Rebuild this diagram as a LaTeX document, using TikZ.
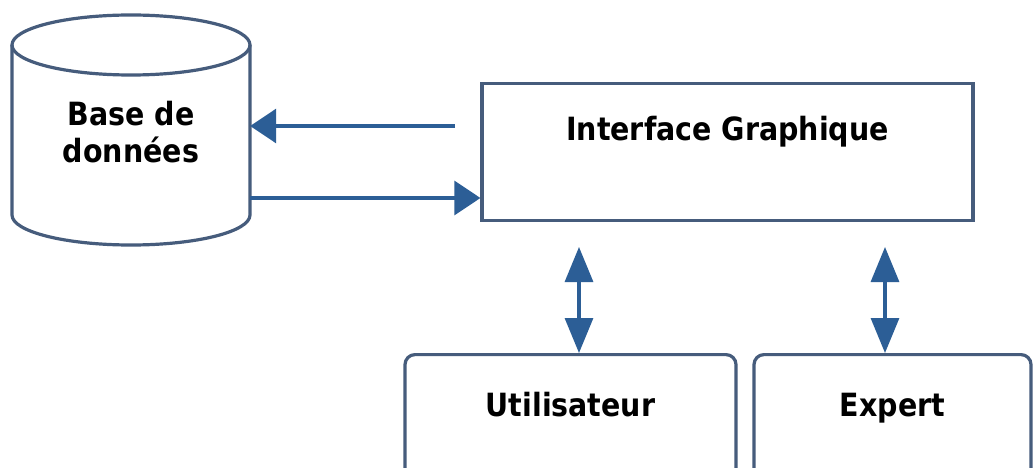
\documentclass[tikz,border=0pt]{standalone}
\usepackage{fontspec}
\setmainfont{DejaVu Sans}[FakeStretch=0.89]
\usetikzlibrary{arrows.meta}
\definecolor{frame}{RGB}{70,92,124}
\definecolor{flow}{RGB}{44,94,150}
\begin{document}
\begin{tikzpicture}[x=1pt,y=-1pt,
  label/.style={font=\fontsize{32}{37}\selectfont\bfseries, text=black},
  box/.style={label, draw=frame, line width=3.2pt, fill=white, inner xsep=0pt, inner ysep=0pt, anchor=north},
  link/.style={draw=flow, line width=3.2pt},
  hhead/.style={-{Triangle[length=26pt,width=34pt]}},
  vhead/.style={{Triangle[length=35pt,width=28pt]}-{Triangle[length=35pt,width=28pt]}},
]
\clip (0,0) rectangle (1034,468);
\fill[white] (0,0) rectangle (1034,468);

% database cylinder
\draw[frame, line width=3.2pt, fill=white]
  (12,45) -- (12,215) arc[start angle=180, end angle=360, x radius=119pt, y radius=30pt] -- (250,45);
\draw[frame, line width=3.2pt] (131,45) ellipse[x radius=119pt, y radius=30pt];
\node[label, align=center, minimum width=238pt, inner sep=0pt] (db) at (131,132) {Base de\\données};

% boxes
\node[box, minimum width=491pt, text height=57pt, text depth=80pt] (iface) at (727.5,82) {Interface Graphique};
\node[box, rounded corners=10pt, minimum width=331pt, text height=62pt, text depth=80pt] (user) at (570.5,353) {Utilisateur};
\node[box, rounded corners=10pt, minimum width=277pt, text height=62pt, text depth=80pt] (expert) at (892.5,353) {Expert};

% connectors
\coordinate (a0) at (455,126);
\coordinate (b0) at (250,198);
\coordinate (u0) at (579,247);
\coordinate (e0) at (885,247);
\draw[link, hhead] (a0) -- (a0 -| db.east);
\draw[link, hhead] (b0 -| db.east) -- (b0 -| iface.west);
\draw[link, vhead] (u0) -- (u0 |- user.north);
\draw[link, vhead] (e0) -- (e0 |- expert.north);
\end{tikzpicture}
\end{document}
